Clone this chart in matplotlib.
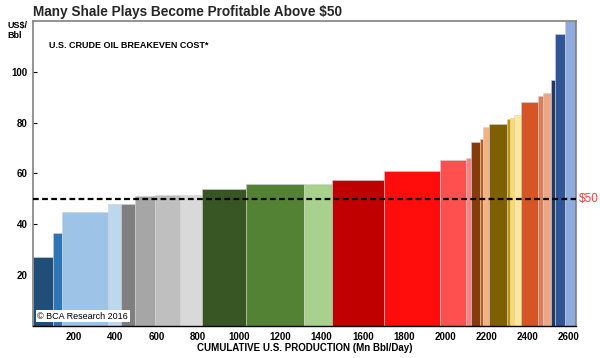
import matplotlib
matplotlib.use('Agg')
import matplotlib.pyplot as plt
import numpy as np

plt.rcParams.update({
    'font.family': ['Liberation Sans', 'DejaVu Sans'],
    'font.size': 7,
    'font.weight': 'bold',
    'axes.labelweight': 'bold',
})

# cumulative production boundaries (Mn Bbl/Day) and breakeven costs (US$/Bbl)
edges = [0, 97, 142, 366, 428, 495, 592, 715, 818, 1032, 1314, 1452, 1705,
         1976, 2100, 2123, 2170, 2184, 2213, 2300, 2315, 2331, 2368, 2448,
         2476, 2511, 2532, 2580, 2634]
costs = [27.0, 36.4, 44.9, 48.0, 48.0, 51.2, 51.6, 51.6, 53.8, 56.0, 56.0,
         57.6, 61.0, 65.5, 66.0, 72.3, 73.5, 78.3, 79.6, 81.4, 82.0, 83.1,
         88.1, 90.3, 91.8, 96.8, 114.8, 120.0]
colors = ['#1F4E79', '#2E75B6', '#9DC3E6', '#BDD7EE', '#7F7F7F', '#A6A6A6',
          '#BFBFBF', '#D9D9D9', '#375623', '#548235', '#A9D18E', '#C00000',
          '#FF0D0D', '#FF5050', '#FF8080', '#843C0C', '#C55A11', '#F4B183',
          '#7F6000', '#BF9000', '#FFD966', '#FFE699', '#D55524', '#E07B54',
          '#EBA889', '#203864', '#2F5597', '#8FAADC']
xticks = [200, 400, 600, 800, 1000, 1200, 1400, 1600, 1800, 2000, 2200, 2400, 2600]
yticks = [20, 40, 60, 80, 100]
threshold = 50

fig = plt.figure(figsize=(6, 3.58), dpi=100)
ax = fig.add_axes([0.055, 0.0894, 0.905, 0.852])

left = np.array(edges[:-1])
widths = np.diff(edges)
ax.bar(left, costs, width=widths, align='edge', color=colors,
       edgecolor='#D0D0D0', linewidth=0.4, zorder=2)

ax.axhline(threshold, color='black', linestyle=(0, (2.6, 1.5)), linewidth=1.6, zorder=3)
ax.text(1.006, threshold, '$50', transform=ax.get_yaxis_transform(),
        color='#FF3B3B', fontsize=8.5, fontweight='normal', va='center', ha='left')

ax.set_xlim(0, edges[-1])
ax.set_ylim(0, 120)
ax.set_xticks(xticks)
ax.set_yticks(yticks)
ax.tick_params(direction='in', length=3, width=0.8, pad=4)
for side in ['top', 'left', 'right']:
    ax.spines[side].set_color('#808080')
    ax.spines[side].set_linewidth(1.2)
ax.spines['bottom'].set_color('black')
ax.spines['bottom'].set_linewidth(1.0)

ax.set_xlabel('CUMULATIVE U.S. PRODUCTION (Mn Bbl/Day)', fontsize=7, labelpad=1)
fig.text(0.013, 0.94, 'US$/\nBbl', fontsize=6.5, va='top', ha='left', linespacing=1.05)
ax.text(0.03, 0.935, 'U.S. CRUDE OIL BREAKEVEN COST*', transform=ax.transAxes,
        fontsize=6.5, va='top', ha='left')
ax.text(0.008, 0.018, '\u00a9 BCA Research 2016', transform=ax.transAxes,
        fontsize=6.5, fontweight='normal', va='bottom', ha='left', zorder=5,
        bbox=dict(facecolor='white', edgecolor='none', pad=1.2))

fig.text(0.055, 0.967, 'Many Shale Plays Become Profitable Above $50',
         fontsize=9.8, fontweight='bold', color='#262626', va='center', ha='left')

fig.savefig('out.png', dpi=100)
